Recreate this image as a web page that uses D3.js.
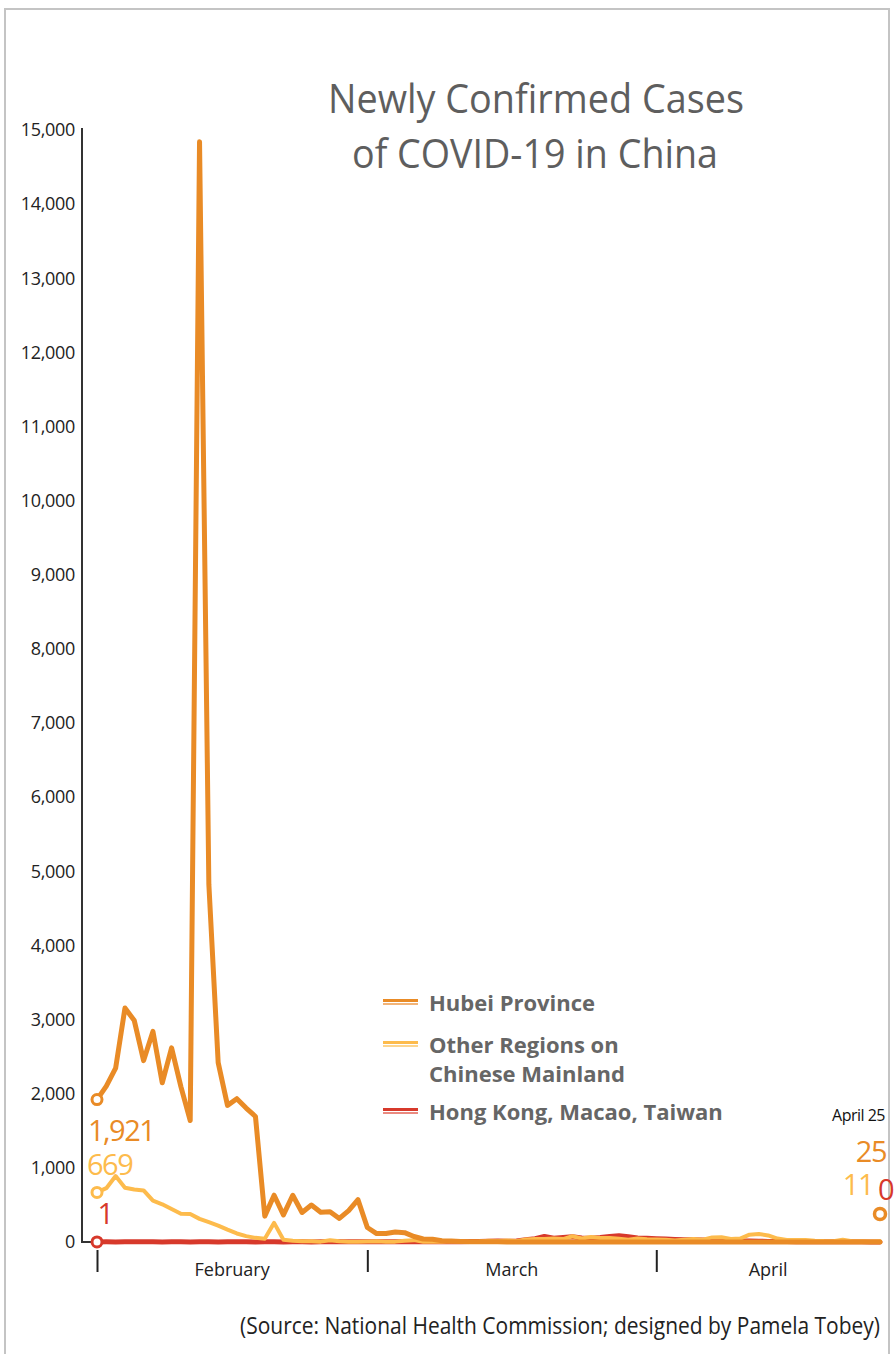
<!DOCTYPE html>
<html>
<head>
<meta charset="utf-8">
<script src="https://cdn.jsdelivr.net/npm/d3@7"></script>
<style>
  body { margin: 0; background: #fff; }
  svg { display: block; }
</style>
</head>
<body>
<div id="chart"></div>
<script>
// daily new confirmed cases, Feb 1 - Apr 25, 2020
var startDate = new Date(2020, 1, 1),
    endDate = new Date(2020, 3, 25);

var hubei = [
  1921, 2103, 2345, 3156, 2987, 2447, 2841, 2147, 2618, 2097, 1638, 14840, 4823, 2420, 1843,
  1933, 1807, 1693, 349, 631, 366, 630, 398, 499, 401, 409, 318, 423, 570,
  196, 114, 115, 134, 126, 74, 41, 36, 17, 13, 8, 5, 4, 4, 4, 1, 1, 0, 0, 0, 0, 0, 0, 1, 0, 0,
  0, 0, 0, 1, 0,
  0, 0, 0, 0, 0, 0, 0, 0, 0, 0, 0, 0, 0, 0, 0, 0, 0, 0, 0, 0, 0, 0, 0, 0, 0
];
var otherMainland = [
  669, 726, 890, 731, 707, 696, 558, 509, 444, 381, 377, 312, 267, 221, 166, 115, 79, 56, 45,
  258, 31, 18, 11, 9, 5, 24, 9, 4, 3,
  6, 11, 4, 5, 17, 25, 3, 4, 2, 11, 7, 3, 7, 16, 12, 20, 12, 34, 39, 41, 46, 39, 78, 47, 67, 55,
  54, 45, 31, 48, 36,
  35, 31, 19, 30, 39, 32, 62, 63, 42, 46, 99, 108, 89, 46, 26, 27, 27, 16, 12, 11, 30, 10, 10, 6, 11
];
var hkMacaoTaiwan = [
  1, 2, 1, 3, 5, 4, 2, 1, 3, 2, 1, 3, 2, 1, 3, 2, 2, 1, 3, 2, 1, 3, 2, 1, 2, 3, 4, 2, 3,
  2, 3, 2, 4, 3, 5, 4, 3, 6, 4, 5, 7, 6, 10, 12, 9, 14, 30, 45, 75, 50, 60, 70, 55, 50, 60, 75,
  85, 70, 55, 50,
  45, 40, 35, 30, 32, 28, 25, 20, 18, 15, 12, 10, 8, 6, 7, 5, 6, 4, 5, 3, 2, 3, 2, 1, 0
];

var seriesNames = ["Hong Kong, Macao, Taiwan", "Other Regions on Chinese Mainland", "Hubei Province"];
var yTicks = [0, 1000, 2000, 3000, 4000, 5000, 6000, 7000, 8000, 9000, 10000, 11000, 12000, 13000, 14000, 15000];
var monthStarts = [new Date(2020, 1, 1), new Date(2020, 2, 1), new Date(2020, 3, 1)];
var monthNames = ["February", "March", "April"];
var startLabels = ["1", "669", "1,921"];
var endLabels = ["0", "11", "25"];

var dates = d3.timeDay.range(startDate, d3.timeDay.offset(endDate, 1));

var W = 894, H = 1354;
var margin = {top: 130, right: 14, bottom: 112, left: 97};
var width = 783,
    height = H - margin.top - margin.bottom;

var colors = {
  "Hubei Province": "#e98b26",
  "Other Regions on Chinese Mainland": "#fdbb4c",
  "Hong Kong, Macao, Taiwan": "#d7392b"
};
var lightColors = {
  "Hubei Province": "#f2b478",
  "Other Regions on Chinese Mainland": "#fdd58e",
  "Hong Kong, Macao, Taiwan": "#ea8a80"
};
var narrow = "'Open Sans', 'Liberation Sans', sans-serif";

var svgRoot = d3.select("#chart")
  .append("svg")
    .attr("width", W)
    .attr("height", H);

// gray frame
svgRoot.append("rect")
  .attr("x", 5).attr("y", 9)
  .attr("width", 884).attr("height", 1400)
  .attr("fill", "none")
  .attr("stroke", "#c4c4c4")
  .attr("stroke-width", 2);

// title
svgRoot.append("text")
  .attr("x", 536).attr("y", 113)
  .attr("text-anchor", "middle")
  .attr("font-family", narrow)
  .attr("font-size", 41)
  .attr("fill", "#5e5e5e")
  .attr("textLength", 416)
  .attr("lengthAdjust", "spacingAndGlyphs")
  .text("Newly Confirmed Cases");
svgRoot.append("text")
  .attr("x", 535).attr("y", 168)
  .attr("text-anchor", "middle")
  .attr("font-family", narrow)
  .attr("font-size", 41)
  .attr("fill", "#5e5e5e")
  .attr("textLength", 366)
  .attr("lengthAdjust", "spacingAndGlyphs")
  .text("of COVID-19 in China");

// source
svgRoot.append("text")
  .attr("x", 880).attr("y", 1334)
  .attr("text-anchor", "end")
  .attr("font-family", narrow)
  .attr("font-size", 23)
  .attr("fill", "#222")
  .attr("textLength", 640)
  .attr("lengthAdjust", "spacingAndGlyphs")
  .text("(Source: National Health Commission; designed by Pamela Tobey)");

var svg = svgRoot.append("g")
  .attr("transform", "translate(" + margin.left + "," + margin.top + ")");

var x = d3.scaleTime()
  .domain([startDate, endDate])
  .range([0, width]);

var y = d3.scaleLinear()
  .domain([0, 15000])
  .range([height, 0]);

// Y axis
var yAxis = svg.append("g")
  .attr("transform", "translate(-15,0)")
  .call(d3.axisLeft(y).tickValues(yTicks).tickFormat(d3.format(",")).tickSize(0).tickPadding(7));
yAxis.select(".domain").attr("stroke", "#333").attr("stroke-width", 2).attr("d", "M0," + (y(15000) - 2) + "V" + y(0) + "H9");
yAxis.selectAll("text")
  .attr("font-family", narrow)
  .attr("font-size", 18)
  .attr("letter-spacing", -0.3)
  .attr("fill", "#222");

// X axis: month boundary ticks
var xAxis = svg.append("g")
  .attr("transform", "translate(0," + (height + 8) + ")")
  .call(d3.axisBottom(x).tickValues(monthStarts).tickSize(22).tickFormat(""));
xAxis.select(".domain").remove();
xAxis.selectAll(".tick line").attr("stroke", "#222").attr("stroke-width", 2);

var monthSpans = [
  [monthStarts[0], monthStarts[1]],
  [monthStarts[1], monthStarts[2]],
  [monthStarts[2], endDate]
];
svg.selectAll(".month")
  .data(monthNames)
  .enter()
  .append("text")
    .attr("class", "month")
    .attr("x", function(d, i) { return (x(monthSpans[i][0]) + x(monthSpans[i][1])) / 2; })
    .attr("y", height + 34)
    .attr("text-anchor", "middle")
    .attr("font-family", narrow)
    .attr("font-size", 18)
    .attr("fill", "#222")
    .text(function(d) { return d; });

// lines
var seriesValues = [hkMacaoTaiwan, otherMainland, hubei];
var widths = [5, 4, 5];
var line = d3.line()
  .x(function(d, i) { return x(dates[i]); })
  .y(function(d) { return y(d); });

seriesValues.forEach(function(vals, k) {
  svg.append("path")
    .datum(vals)
    .attr("fill", "none")
    .attr("stroke", colors[seriesNames[k]])
    .attr("stroke-width", widths[k])
    .attr("stroke-linejoin", "round")
    .attr("stroke-linecap", "round")
    .attr("d", line);
});

// start circles + labels
seriesValues.forEach(function(vals, k) {
  svg.append("circle")
    .attr("cx", x(dates[0]))
    .attr("cy", y(vals[0]))
    .attr("r", 5)
    .attr("fill", "#fff")
    .attr("stroke", colors[seriesNames[k]])
    .attr("stroke-width", 3);
});

function bigLabel(xp, yp, anchor, color, txt) {
  svg.append("text")
    .attr("x", xp).attr("y", yp)
    .attr("text-anchor", anchor).attr("dominant-baseline", "central")
    .attr("font-family", narrow).attr("font-size", 29).attr("letter-spacing", -1.5)
    .attr("fill", color)
    .text(txt);
}
bigLabel(x(dates[0]) + 8, y(hkMacaoTaiwan[0]) - 29, "middle", colors[seriesNames[0]], startLabels[0]);
bigLabel(x(dates[0]) - 10, y(otherMainland[0]) - 29, "start", colors[seriesNames[1]], startLabels[1]);
bigLabel(x(dates[0]) - 9, y(hubei[0]) + 30, "start", colors[seriesNames[2]], startLabels[2]);

// end marker + labels
var xEnd = x(endDate);
svg.append("circle")
  .attr("cx", xEnd).attr("cy", y(hubei[hubei.length - 1]) - 28)
  .attr("r", 5.5)
  .attr("fill", "#fff")
  .attr("stroke", colors["Hubei Province"])
  .attr("stroke-width", 3.5);
svg.append("text")
  .attr("x", xEnd + 5).attr("y", y(0) - 127)
  .attr("text-anchor", "end").attr("dominant-baseline", "central")
  .attr("font-family", narrow).attr("font-size", 16).attr("letter-spacing", -0.5)
  .attr("fill", "#111")
  .text("April 25");
bigLabel(xEnd + 6, y(0) - 92, "end", colors["Hubei Province"], endLabels[2]);
bigLabel(xEnd - 7, y(0) - 59, "end", colors["Other Regions on Chinese Mainland"], endLabels[1]);
bigLabel(xEnd + 13, y(0) - 54, "end", colors["Hong Kong, Macao, Taiwan"], endLabels[0]);

// legend
var legendItems = [
  {name: "Hubei Province", lines: ["Hubei Province"], y: 1002},
  {name: "Other Regions on Chinese Mainland", lines: ["Other Regions on", "Chinese Mainland"], y: 1044},
  {name: "Hong Kong, Macao, Taiwan", lines: ["Hong Kong, Macao, Taiwan"], y: 1111}
];
var legend = svgRoot.append("g");
legendItems.forEach(function(it) {
  legend.append("line")
    .attr("x1", 383).attr("x2", 418)
    .attr("y1", it.y - 1.5).attr("y2", it.y - 1.5)
    .attr("stroke", colors[it.name]).attr("stroke-width", 3);
  legend.append("line")
    .attr("x1", 383).attr("x2", 418)
    .attr("y1", it.y + 2).attr("y2", it.y + 2)
    .attr("stroke", lightColors[it.name]).attr("stroke-width", 2);
  it.lines.forEach(function(t, j) {
    legend.append("text")
      .attr("x", 429).attr("y", it.y + j * 29)
      .attr("dominant-baseline", "central")
      .attr("font-family", "'Open Sans', sans-serif")
      .attr("font-weight", 700)
      .attr("font-size", 22)
      .attr("fill", "#666")
      .text(t);
  });
});
</script>
</body>
</html>
